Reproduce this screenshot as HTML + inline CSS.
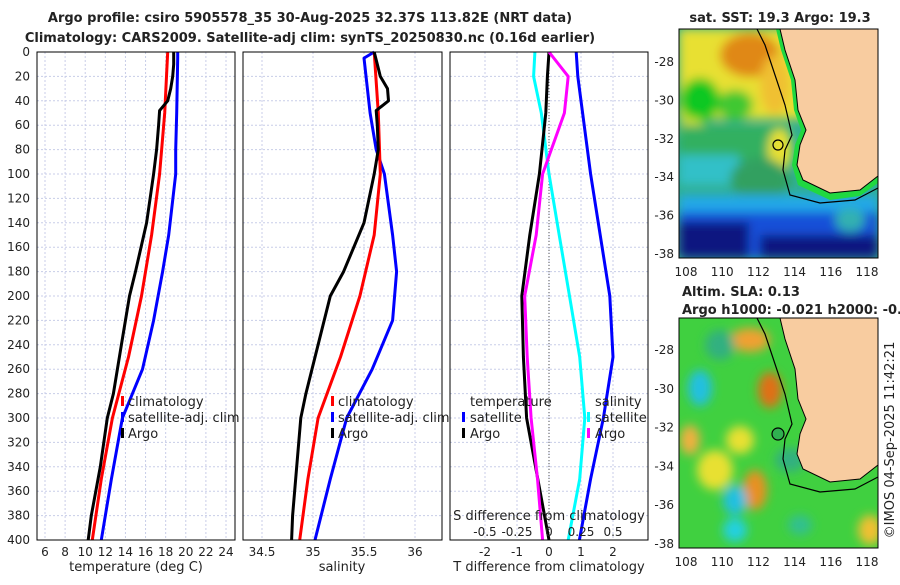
<!DOCTYPE html>
<html><head><meta charset="utf-8"><style>
body{margin:0;background:#fff;}
svg text{font-family:"DejaVu Sans","Liberation Sans",sans-serif;fill:#222;}
</style></head><body>
<svg id="c" width="900" height="580" viewBox="0 0 900 580" xmlns="http://www.w3.org/2000/svg">
<defs>
<filter id="bl" x="-20%" y="-20%" width="140%" height="140%"><feGaussianBlur stdDeviation="5"/></filter>
<filter id="bl2" x="-20%" y="-20%" width="140%" height="140%"><feGaussianBlur stdDeviation="5"/></filter>
<clipPath id="m1"><rect x="679" y="29" width="199" height="229"/></clipPath>
<clipPath id="m2"><rect x="679" y="318" width="199" height="230"/></clipPath>
</defs>
<text x="310" y="22" text-anchor="middle" font-size="13" font-weight="bold" fill="#111">Argo profile: csiro 5905578_35 30-Aug-2025 32.37S 113.82E (NRT data)</text>
<text x="310" y="42" text-anchor="middle" font-size="13" font-weight="bold" fill="#111">Climatology: CARS2009. Satellite-adj clim: synTS_20250830.nc (0.16d earlier)</text>

<g id="grid"></g>
<g id="lines"></g>
<g id="axes"></g>

<g font-size="13">
<rect x="121" y="396" width="3" height="10" fill="#f00"/><text x="128" y="406">climatology</text>
<rect x="121" y="412" width="3" height="10" fill="#00f"/><text x="128" y="422">satellite-adj. clim</text>
<rect x="121" y="428" width="3" height="10" fill="#000"/><text x="128" y="438">Argo</text>
</g>
<g font-size="13">
<rect x="331" y="396" width="3" height="10" fill="#f00"/><text x="338" y="406">climatology</text>
<rect x="331" y="412" width="3" height="10" fill="#00f"/><text x="338" y="422">satellite-adj. clim</text>
<rect x="331" y="428" width="3" height="10" fill="#000"/><text x="338" y="438">Argo</text>
</g>
<g font-size="13">
<text x="470" y="406">temperature</text>
<rect x="462" y="412" width="3" height="10" fill="#00f"/><text x="470" y="422">satellite</text>
<rect x="462" y="428" width="3" height="10" fill="#000"/><text x="470" y="438">Argo</text>
<text x="595" y="406">salinity</text>
<rect x="587" y="412" width="3" height="10" fill="#0ff"/><text x="595" y="422">satellite</text>
<rect x="587" y="428" width="3" height="10" fill="#f0f"/><text x="595" y="438">Argo</text>
</g>
<text x="549" y="520" text-anchor="middle" font-size="13">S difference from climatology</text>

<text x="136" y="571" text-anchor="middle" font-size="13">temperature (deg C)</text>
<text x="342" y="571" text-anchor="middle" font-size="13">salinity</text>
<text x="549" y="571" text-anchor="middle" font-size="13">T difference from climatology</text>

<g clip-path="url(#m1)">
<rect x="679" y="29" width="199" height="229" fill="#30b090"/>
<g filter="url(#bl)">
<rect x="679" y="29" width="199" height="90" fill="#e8e030"/>
<ellipse cx="750" cy="55" rx="30" ry="22" fill="#e08818"/>
<ellipse cx="775" cy="85" rx="15" ry="30" fill="#f0c030"/>
<ellipse cx="700" cy="100" rx="20" ry="22" fill="#10c820"/>
<ellipse cx="735" cy="105" rx="18" ry="15" fill="#40c830"/>
<ellipse cx="692" cy="130" rx="14" ry="12" fill="#d8e030"/>
<rect x="679" y="125" width="110" height="35" fill="#30b060"/>
<ellipse cx="780" cy="150" rx="12" ry="22" fill="#e8e030"/>
<rect x="679" y="155" width="60" height="30" fill="#30c0c8"/>
<ellipse cx="760" cy="180" rx="30" ry="22" fill="#30a060"/>
<rect x="679" y="195" width="199" height="20" fill="#20a8e8"/>
<rect x="679" y="212" width="199" height="46" fill="#1850d8"/>
<rect x="679" y="222" width="70" height="36" fill="#0a1880"/>
<rect x="760" y="235" width="118" height="23" fill="#0a1880"/>
<ellipse cx="850" cy="220" rx="15" ry="12" fill="#30b0b0"/>
</g>
<path d="M776,29 L781,50 L791,80 L794,110 L801,130 L795,145 L792,165 L798,185 L830,200 L860,196 L878,183 L878,175 L860,190 L830,193 L803,180 L797,165 L800,145 L806,130 L798,110 L795,80 L785,50 L780,29 Z" fill="#20d840"/>
<path d="M780,29 L785,50 L795,80 L798,110 L806,130 L800,145 L797,165 L803,180 L830,193 L860,190 L878,176 L878,29 Z" fill="#f8cca0" stroke="#000" stroke-width="1"/>
<path d="M757,29 L765,45 L775,75 L785,105 L792,135 L785,150 L783,170 L790,195 L820,203 L855,200 L878,188" fill="none" stroke="#000" stroke-width="1.2"/>
<circle cx="778" cy="145" r="5" fill="none" stroke="#000" stroke-width="1.2"/>
</g>
<g clip-path="url(#m2)">
<rect x="679" y="318" width="199" height="230" fill="#40d040"/>
<g filter="url(#bl2)">
<ellipse cx="750" cy="340" rx="20" ry="12" fill="#f0a030"/>
<ellipse cx="770" cy="390" rx="12" ry="18" fill="#e07018"/>
<ellipse cx="700" cy="388" rx="12" ry="18" fill="#20c0e0"/>
<ellipse cx="690" cy="440" rx="10" ry="15" fill="#f0b040"/>
<ellipse cx="755" cy="490" rx="12" ry="20" fill="#e89020"/>
<ellipse cx="735" cy="500" rx="12" ry="15" fill="#20c0e0"/>
<ellipse cx="735" cy="530" rx="12" ry="12" fill="#20d0e0"/>
<ellipse cx="800" cy="525" rx="12" ry="10" fill="#30c090"/>
<ellipse cx="715" cy="470" rx="18" ry="20" fill="#e8e030"/>
<ellipse cx="740" cy="440" rx="14" ry="14" fill="#e8e030"/>
<ellipse cx="870" cy="530" rx="12" ry="15" fill="#f0c030"/>
<ellipse cx="720" cy="345" rx="15" ry="15" fill="#30b080"/>
<ellipse cx="790" cy="460" rx="15" ry="12" fill="#30b080"/>
</g>
<path d="M780,318 L785,339 L795,369 L798,399 L806,419 L800,434 L797,454 L803,469 L830,482 L860,479 L878,465 L878,318 Z" fill="#f8cca0" stroke="#000" stroke-width="1"/>
<path d="M757,318 L765,334 L775,364 L785,394 L792,424 L785,439 L783,459 L790,484 L820,492 L855,489 L878,477" fill="none" stroke="#000" stroke-width="1.2"/>
<circle cx="778" cy="434" r="6" fill="#30b050" stroke="#000" stroke-width="1.2"/>
</g>
<rect x="679" y="29" width="199" height="229" fill="none" stroke="#000" stroke-width="1"/>
<rect x="679" y="318" width="199" height="230" fill="none" stroke="#000" stroke-width="1"/>
<g id="mapticks" font-size="12"></g>
<text x="780" y="22" text-anchor="middle" font-size="13" font-weight="bold" fill="#111">sat. SST: 19.3 Argo: 19.3</text>
<text x="682" y="296" font-size="13" font-weight="bold" fill="#111">Altim. SLA: 0.13</text>
<text x="682" y="314" font-size="13" font-weight="bold" fill="#111">Argo h1000: -0.021 h2000: -0.026</text>
<text transform="translate(894,440) rotate(-90)" text-anchor="middle" font-size="13">©IMOS 04-Sep-2025 11:42:21</text>
</svg>
<script>
const depthA=[0,10,20,30,40,48,60,80,100,140,180,200,240,280,300,340,380,400];
const tempArgo=[18.8,18.8,18.7,18.5,18.2,17.4,17.3,17.1,16.8,16.1,15.0,14.4,13.6,12.8,12.2,11.5,10.6,10.3];
const salArgo=[35.6,35.63,35.66,35.73,35.74,35.62,35.63,35.64,35.6,35.5,35.3,35.17,35.05,34.93,34.88,34.84,34.8,34.79];
const depthC=[0,50,100,150,200,250,300,350,400];
const tempClim=[18.2,17.9,17.4,16.6,15.6,14.3,12.7,11.6,10.7];
const salClim=[35.6,35.64,35.66,35.6,35.46,35.27,35.05,34.95,34.87];
const depthS=[0,5,50,80,100,150,180,220,260,300,350,400];
const tempSat=[19.2,19.2,19.1,19.0,19.0,18.3,17.7,16.8,15.7,13.7,12.6,11.6];
const salSat=[35.6,35.5,35.56,35.62,35.7,35.78,35.82,35.78,35.58,35.33,35.17,35.02];
const depthD=[0,20,50,100,150,200,250,300,350,400];
const tDiffSat=[0.85,0.9,1.05,1.3,1.6,1.9,2.0,1.7,1.3,0.95];
const tDiffArgo=[0,-0.05,-0.1,-0.3,-0.6,-0.85,-0.8,-0.7,-0.35,0];
const sDiffSat=[-0.11,-0.12,-0.06,0,0.08,0.16,0.24,0.28,0.24,0.15];
const sDiffArgo=[0,0.15,0.12,-0.05,-0.1,-0.19,-0.17,-0.14,-0.09,-0.05];
const tTicks=[6,8,10,12,14,16,18,20,22,24];
const sTicks=[34.5,35,35.5,36];
const tdTicks=[-2,-1,0,1,2];
const sdTicks=[-0.5,-0.25,0,0.25,0.5];
const depthTicks=[0,20,40,60,80,100,120,140,160,180,200,220,240,260,280,300,320,340,360,380,400];
const lonTicks=[108,110,112,114,116,118];
const latTicks=[-28,-30,-32,-34,-36,-38];

const NS='http://www.w3.org/2000/svg';
const Y0=52,Y1=540;
const yD=d=>Y0+(d/400)*(Y1-Y0);
const P1={x0:37,x1:235}, P2={x0:243,x1:442}, P3={x0:450,x1:648};
const xT=v=>45+(v-6)*(226-45)/18;
const xS=v=>262+(v-34.5)*(415-262)/1.5;
const xTD=v=>549+v*32;
const xSD=v=>549+v*128;
function el(tag,attrs,parent){const e=document.createElementNS(NS,tag);for(const k in attrs)e.setAttribute(k,attrs[k]);parent.appendChild(e);return e;}
const G=document.getElementById('grid'),L=document.getElementById('lines'),A=document.getElementById('axes'),MT=document.getElementById('mapticks');
function panel(P,ticks,fx,name){
  for(const t of ticks){const x=fx(t);const g=el('line',{x1:x,x2:x,y1:Y0,y2:Y1,stroke:'#c8cde8','stroke-dasharray':'2,2'},G);
    
    const tx=el('text',{x:x,y:556,'text-anchor':'middle','font-size':12},A);tx.textContent=String(t);
    }
  for(const d of depthTicks){const y=yD(d);const g=el('line',{x1:P.x0,x2:P.x1,y1:y,y2:y,stroke:'#c8cde8','stroke-dasharray':'2,2'},G);
    }
  const r=el('rect',{x:P.x0,y:Y0,width:P.x1-P.x0,height:Y1-Y0,fill:'none',stroke:'#000','stroke-width':1},A);
  
}
panel(P1,tTicks,xT,'temperature-panel');
panel(P2,sTicks,xS,'salinity-panel');
panel(P3,tdTicks,xTD,'difference-panel');
for(const d of depthTicks){const t=el('text',{x:30,y:yD(d)+4,'text-anchor':'end','font-size':12},A);t.textContent=String(d);
  }
for(const s of sdTicks){const t=el('text',{x:xSD(s),y:536,'text-anchor':'middle','font-size':12},A);t.textContent=String(s);
  }
const zl=el('line',{x1:xTD(0),x2:xTD(0),y1:Y0,y2:Y1,stroke:'#555','stroke-dasharray':'1,2'},L);

function line(depths,vals,fx,color,name){
  const pts=depths.map((d,i)=>fx(vals[i]).toFixed(1)+','+yD(d).toFixed(1)).join(' ');
  const p=el('polyline',{points:pts,fill:'none',stroke:color,'stroke-width':3,'stroke-linejoin':'round'},L);
  
}
line(depthS,tempSat,xT,'#00f','temperature-satellite-line');
line(depthC,tempClim,xT,'#f00','temperature-climatology-line');
line(depthA,tempArgo,xT,'#000','temperature-argo-line');
line(depthS,salSat,xS,'#00f','salinity-satellite-line');
line(depthC,salClim,xS,'#f00','salinity-climatology-line');
line(depthA,salArgo,xS,'#000','salinity-argo-line');
line(depthD,tDiffSat,xTD,'#00f','t-diff-satellite-line');
line(depthD,sDiffSat,xSD,'#0ff','s-diff-satellite-line');
line(depthD,tDiffArgo,xTD,'#000','t-diff-argo-line');
line(depthD,sDiffArgo,xSD,'#f0f','s-diff-argo-line');
const lonX=v=>686+(v-108)*(867-686)/10;
for(const m of [{y0:29,y1:258,lat0:62,lat1:254},{y0:318,y1:548,lat0:350,lat1:544}]){
  for(const lo of lonTicks){const t=el('text',{x:lonX(lo),y:m.y1+18,'text-anchor':'middle'},MT);t.textContent=String(lo);
    }
  for(const la of latTicks){const y=m.lat0+(-28-la)/10*(m.lat1-m.lat0);
    const t=el('text',{x:674,y:y+4,'text-anchor':'end'},MT);t.textContent=String(la);
    }
}
</script>
</body></html>
